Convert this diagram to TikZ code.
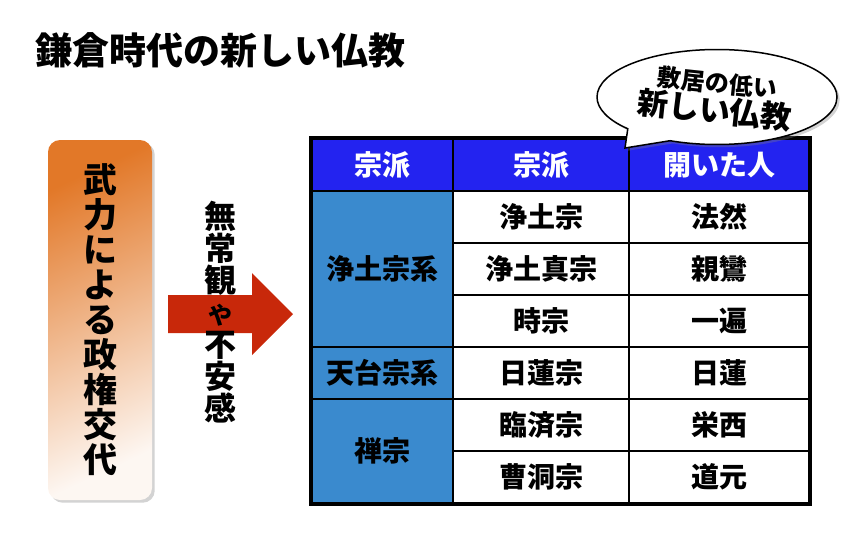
\documentclass[tikz,border=0pt]{standalone}
\usepackage{fontspec}
\setmainfont{Noto Sans CJK JP}
\usepackage{tikz}
\usetikzlibrary{shapes.callouts,shadows}
\definecolor{headblue}{RGB}{35,35,240}
\definecolor{groupblue}{RGB}{58,138,206}
\definecolor{arrowred}{RGB}{200,40,10}
\definecolor{boxorange}{RGB}{226,120,40}
\tikzset{
  cell/.style={draw, line width=2.5pt, fill=white, minimum height=52pt, inner sep=0pt, font=\bfseries\fontsize{28}{28}\selectfont},
  headcell/.style={cell, fill=headblue, text=white},
  groupcell/.style={cell, fill=groupblue},
}

\begin{document}
\begin{tikzpicture}[x=1pt,y=-1pt]
        \useasboundingbox (0,0) rectangle (865,533);
        \node (title) at (220,50) {\bfseries\fontsize{37}{37}\selectfont 鎌倉時代の新しい仏教};

        % left box and arrow
        \node[rounded corners=12pt, minimum width=104pt, minimum height=360pt, top color=boxorange, bottom color=boxorange!6, shading angle=25, drop shadow={opacity=0.35}, align=center, font=\bfseries\fontsize{34}{35}\selectfont] (power) at (100,320) {武\\力\\に\\よ\\る\\政\\権\\交\\代};
        \fill[arrowred] (168,295) -- (252,295) -- (252,273) -- (293,314) -- (252,355) -- (252,333) -- (168,333) -- cycle;
        \node[align=center, font=\bfseries\fontsize{32}{32}\selectfont] (anxiety) at (220,312) {無\\常\\観\\{\fontsize{24}{24}\selectfont や}\\不\\安\\感};

        % table
        \node[headcell, minimum width=141pt] (h1) at (382.5,165) {宗派};
        \node[headcell, minimum width=176pt] (h2) at (541,165) {宗派};
        \node[headcell, minimum width=180pt] (h3) at (719,165) {開いた人};

        \node[groupcell, minimum width=141pt, minimum height=156pt] (g1) at (382.5,269) {浄土宗系};
        \node[groupcell, minimum width=141pt] (g2) at (382.5,373) {天台宗系};
        \node[groupcell, minimum width=141pt, minimum height=104pt] (g3) at (382.5,451) {禅宗};

        \node[cell, minimum width=176pt] (s1) at (541,217) {浄土宗};
        \node[cell, minimum width=180pt] (f1) at (719,217) {法然};
        \node[cell, minimum width=176pt] (s2) at (541,269) {浄土真宗};
        \node[cell, minimum width=180pt] (f2) at (719,269) {親鸞};
        \node[cell, minimum width=176pt] (s3) at (541,321) {時宗};
        \node[cell, minimum width=180pt] (f3) at (719,321) {一遍};
        \node[cell, minimum width=176pt] (s4) at (541,373) {日蓮宗};
        \node[cell, minimum width=180pt] (f4) at (719,373) {日蓮};
        \node[cell, minimum width=176pt] (s5) at (541,425) {臨済宗};
        \node[cell, minimum width=180pt] (f5) at (719,425) {栄西};
        \node[cell, minimum width=176pt] (s6) at (541,477) {曹洞宗};
        \node[cell, minimum width=180pt] (f6) at (719,477) {道元};

        \draw[line width=3.5pt] (h1.north west) rectangle (f6.south east);

        % speech bubble
        \node[ellipse callout, draw, line width=1.5pt, fill=white, minimum width=240pt, minimum height=95pt, callout absolute pointer={(625,148)}, callout pointer arc=25, drop shadow={opacity=0.35}] (bubble) at (717,97) {};
        \node[rotate=-6, align=center, font=\bfseries] (bubbletext) at (716,98) {{\fontsize{24}{31}\selectfont 敷居の低い}\\{\fontsize{31}{34}\selectfont 新しい仏教}};
    \end{tikzpicture}
\end{document}
